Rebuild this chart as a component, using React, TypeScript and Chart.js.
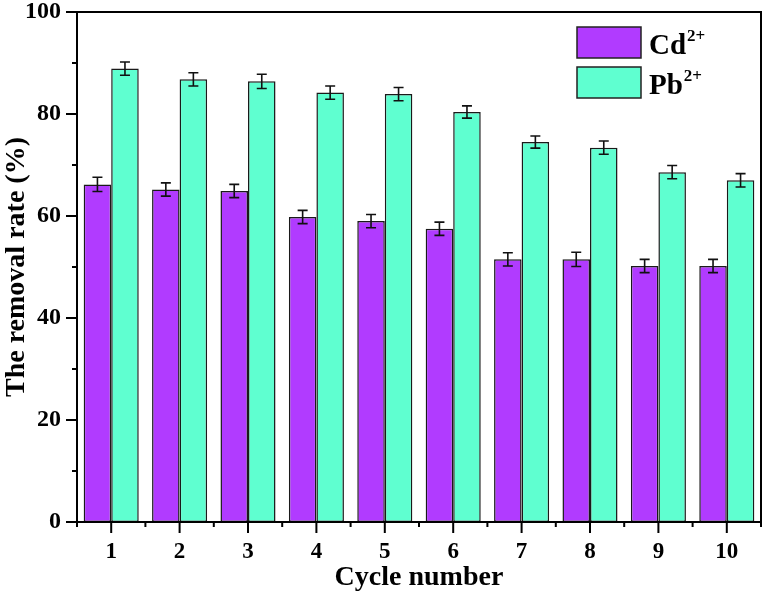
import React, { useEffect, useRef } from "react";
import { Chart, registerables } from "chart.js";

Chart.register(...registerables);

const categories = ["1", "2", "3", "4", "5", "6", "7", "8", "9", "10"];
const cdValues = [66.2, 65.2, 64.9, 59.8, 59.0, 57.5, 51.5, 51.5, 50.2, 50.2];
const pbValues = [88.9, 86.8, 86.4, 84.2, 83.9, 80.4, 74.5, 73.4, 68.6, 67.0];
const cdErrors = [1.4, 1.3, 1.3, 1.3, 1.3, 1.3, 1.3, 1.4, 1.3, 1.3];
const pbErrors = [1.3, 1.3, 1.4, 1.3, 1.3, 1.2, 1.2, 1.3, 1.3, 1.3];
const seriesNames = ["Cd", "Pb"];
const seriesSup = ["2+", "2+"];
const yTicksMajor = [0, 20, 40, 60, 80, 100];

const FONT = '"Liberation Serif", "Times New Roman", serif';
const CD_COLOR = "#B13BFF";
const PB_COLOR = "#5FFFD0";

const errorBarPlugin = {
  id: "errorBars",
  afterDatasetsDraw(chart: any) {
    const ctx = chart.ctx;
    const yScale = chart.scales.y;
    const errs = [cdErrors, pbErrors];
    ctx.save();
    ctx.strokeStyle = "#111";
    ctx.lineWidth = 1.6;
    chart.data.datasets.forEach((ds: any, di: number) => {
      const meta = chart.getDatasetMeta(di);
      meta.data.forEach((el: any, i: number) => {
        const v = ds.data[i];
        const e = errs[di][i];
        const x = el.x;
        const yt = yScale.getPixelForValue(v + e);
        const yb = yScale.getPixelForValue(v - e);
        ctx.beginPath();
        ctx.moveTo(x, yt);
        ctx.lineTo(x, yb);
        ctx.moveTo(x - 5, yt);
        ctx.lineTo(x + 5, yt);
        ctx.moveTo(x - 5, yb);
        ctx.lineTo(x + 5, yb);
        ctx.stroke();
      });
    });
    ctx.restore();
  },
};

const framePlugin = {
  id: "frame",
  afterDraw(chart: any) {
    const ctx = chart.ctx;
    const { left, right, top, bottom } = chart.chartArea;
    const xs = chart.scales.x;
    const ys = chart.scales.y;
    ctx.save();
    ctx.strokeStyle = "#000";
    ctx.lineWidth = 2;
    ctx.strokeRect(left, top, right - left, bottom - top);
    ctx.beginPath();
    for (let v = 0; v <= 100; v += 10) {
      const y = ys.getPixelForValue(v);
      const len = v % 20 === 0 ? 11 : 5;
      ctx.moveTo(left - len, y);
      ctx.lineTo(left, y);
    }
    const n = categories.length;
    for (let i = 0; i < n; i++) {
      const x = xs.getPixelForValue(i);
      ctx.moveTo(x, bottom);
      ctx.lineTo(x, bottom + 11);
    }
    for (let i = 0; i <= n; i++) {
      const x = xs.getPixelForValue(i - 0.5);
      ctx.moveTo(x, bottom);
      ctx.lineTo(x, bottom + 5);
    }
    ctx.stroke();
    ctx.restore();
  },
};

const legendPlugin = {
  id: "customLegend",
  afterDraw(chart: any) {
    const ctx = chart.ctx;
    const { right, top } = chart.chartArea;
    const colors = [CD_COLOR, PB_COLOR];
    ctx.save();
    for (let i = 0; i < seriesNames.length; i++) {
      const bx = right - 184;
      const by = top + 15 + i * 40;
      ctx.fillStyle = colors[i];
      ctx.fillRect(bx, by, 64, 31);
      ctx.strokeStyle = "#222";
      ctx.lineWidth = 1.5;
      ctx.strokeRect(bx, by, 64, 31);
      ctx.fillStyle = "#000";
      ctx.textBaseline = "alphabetic";
      ctx.textAlign = "left";
      ctx.font = `bold 29px ${FONT}`;
      const tx = bx + 72;
      const ty = by + 27;
      ctx.fillText(seriesNames[i], tx, ty);
      const w = ctx.measureText(seriesNames[i]).width;
      ctx.font = `bold 17px ${FONT}`;
      ctx.fillText(seriesSup[i], tx + w + 1, ty - 13);
    }
    ctx.restore();
  },
};

export default function App() {
  const ref = useRef<HTMLCanvasElement | null>(null);
  useEffect(() => {
    if (!ref.current) return;
    const chart = new Chart(ref.current, {
      type: "bar",
      data: {
        labels: categories,
        datasets: [
          {
            label: "Cd2+",
            data: cdValues,
            backgroundColor: CD_COLOR,
            borderColor: "#1a1a1a",
            borderWidth: 1.5,
            borderSkipped: false,
            barPercentage: 1,
            categoryPercentage: 0.805,
          },
          {
            label: "Pb2+",
            data: pbValues,
            backgroundColor: PB_COLOR,
            borderColor: "#1a1a1a",
            borderWidth: 1.5,
            borderSkipped: false,
            barPercentage: 1,
            categoryPercentage: 0.805,
          },
        ],
      },
      options: {
        responsive: false,
        animation: false,
        layout: { padding: { top: 12, right: 4, left: 0, bottom: 0 } },
        plugins: {
          legend: { display: false },
          tooltip: { enabled: false },
        },
        scales: {
          x: {
            grid: { display: false, drawTicks: false },
            border: { display: false },
            ticks: {
              color: "#000",
              font: { family: FONT, size: 23, weight: "bold" },
              padding: 16,
              maxRotation: 0,
            },
            title: {
              display: true,
              text: "Cycle number",
              color: "#000",
              font: { family: FONT, size: 28, weight: "bold" },
              padding: { top: 0, bottom: 0 },
            },
            afterFit(scale: any) {
              scale.height = 73;
              scale.paddingLeft = 0;
              scale.paddingRight = 0;
            },
          },
          y: {
            min: 0,
            max: 100,
            grid: { display: false, drawTicks: false },
            border: { display: false },
            afterBuildTicks(scale: any) {
              scale.ticks = yTicksMajor.map((v) => ({ value: v }));
            },
            ticks: {
              color: "#000",
              font: { family: FONT, size: 24, weight: "bold" },
              padding: 16,
            },
            title: {
              display: true,
              text: "The removal rate (%)",
              color: "#000",
              font: { family: FONT, size: 28, weight: "bold" },
              padding: { top: 0, bottom: 0 },
            },
            afterFit(scale: any) {
              scale.width = 77;
              scale.paddingTop = 0;
              scale.paddingBottom = 0;
            },
          },
        },
      },
      plugins: [errorBarPlugin, framePlugin, legendPlugin],
    });
    return () => chart.destroy();
  }, []);
  return (
    <div style={{ position: "fixed", left: 0, top: 0, width: 765, height: 595, background: "#fff" }}>
      <canvas ref={ref} width={765} height={595} />
    </div>
  );
}
